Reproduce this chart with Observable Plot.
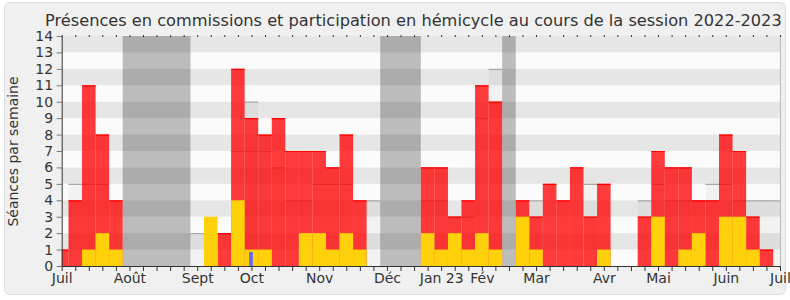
<!DOCTYPE html>
<html><head><meta charset="utf-8">
<script src="https://cdn.jsdelivr.net/npm/d3@7"></script>
<script src="https://cdn.jsdelivr.net/npm/@observablehq/plot@0.6"></script>
<style>
html,body{margin:0;padding:0;background:#fff;width:790px;height:300px;overflow:hidden;}
#box{position:absolute;left:4px;top:2px;width:780px;height:291px;background:#f0f0f0;border:1px solid #dcdcdc;border-radius:6px;}
#title{position:absolute;left:45px;top:13px;font-family:"DejaVu Sans";font-size:16.2px;line-height:16px;color:#333;white-space:nowrap;}
#chart{position:absolute;left:0;top:28px;}
</style>
</head><body>
<div id="box"></div>
<div id="title">Présences en commissions et participation en hémicycle au cours de la session 2022-2023</div>
<div id="chart"></div>
<script>
// Semaine 0 = première semaine de juillet 2022 ... semaine 53 = juillet 2023
const commission    = [1,4,11,8,4, 0,0,0,0,0, 0,0,2,12,9,8,9,7,7,7,6,8,4,0, 0,0,0, 6,6,3,4,11,10, 0, 4,3,5,4,6,3,5,0,0,3,7,6,6,4,4,8,7,3,1,0];
const participation = [0,0,1,2,1, 0,0,0,0,0, 0,3,0,4,1,1,0,0,2,2,1,2,1,0, 0,0,0, 2,1,2,1,2,1, 0, 3,1,0,0,0,0,1,0,0,0,3,0,1,2,0,3,3,1,0,0];
const mediane       = [null,5,5,5,null, null,null,null,null,null, 2,null,null,7,7,7,6,4,4,5,5,5,null,4, null,null,null, 4,4,3,3,9,12, null, null,4,null,null,null,5,null,null,null,4,5,4,4,4,5,5,4,4,4,4];
const mediane2      = [null,null,null,null,null, null,null,null,null,null, null,null,null,null,10,null,null,null,null,null,null,null,null,null, null,null,null, null,null,null,null,null,null, null, null,null,null,null,null,null,null,null,null,null,null,null,null,null,null,null,null,null,null,null];
const questions     = [0,0,0,0,0, 0,0,0,0,0, 0,0,0,0,0.85,0,0,0,0,0,0,0,0,0, 0,0,0, 0,0,0,0,0,0, 0, 0,0,0,0,0,0,0,0,0,0,0,0,0,0,0,0,0,0,0,0];
const vacances      = [[5,9],[24,26],[33,33]];
const moisLabels    = ["Juil","Août","Sept","Oct","Nov","Déc","Jan 23","Fév","Mar","Avr","Mai","Juin","Juil"];
const moisSemaines  = [0,5,10,14,19,24,28,31,35,40,44,49,53];
const yTicks        = d3.range(0, 15);

const weeks = commission.map((v, i) => ({
  i, commission: v, participation: participation[i],
  mediane: mediane[i], mediane2: mediane2[i], questions: questions[i]
}));
const labelMap = new Map(moisSemaines.map((w, k) => [w, moisLabels[k]]));
const stripes = d3.range(0, 14).map(k => ({k}));
const X1 = d => d.i - 0.5, X2 = d => d.i + 0.5, ZERO = () => 0;

const chart = Plot.plot({
  width: 790, height: 272,
  marginLeft: 61.7, marginRight: 10, marginTop: 8, marginBottom: 34,
  x: {domain: [0, 53], axis: null},
  y: {domain: [0, 14], axis: null},
  style: {fontFamily: "DejaVu Sans", fontSize: "14px", color: "#333", background: "transparent", overflow: "visible"},
  marks: [
    Plot.rect(stripes.filter(d => d.k % 2 === 1), {x1: () => 0, x2: () => 53, y1: d => d.k, y2: d => d.k + 1, fill: "#e6e6e6"}),
    Plot.rect(stripes.filter(d => d.k % 2 === 0), {x1: () => 0, x2: () => 53, y1: d => d.k, y2: d => d.k + 1, fill: "#fbfbfb"}),
    Plot.rect(vacances, {x1: d => d[0] - 0.5, x2: d => d[1] + 0.5, y1: ZERO, y2: () => 14, fill: "#000", fillOpacity: 0.25}),
    Plot.rect(weeks.filter(d => d.mediane2 != null), {x1: X1, x2: X2, y1: ZERO, y2: "mediane2", fill: "#000", fillOpacity: 0.035, clip: true}),
    Plot.ruleY(weeks.filter(d => d.mediane2 != null), {y: "mediane2", x1: X1, x2: X2, stroke: "#a8a8a8", strokeWidth: 1.2, clip: true}),
    Plot.rect(weeks.filter(d => d.mediane != null), {x1: X1, x2: X2, y1: ZERO, y2: "mediane", fill: "#000", fillOpacity: 0.035, clip: true}),
    Plot.ruleY(weeks.filter(d => d.mediane != null), {y: "mediane", x1: X1, x2: X2, stroke: "#a8a8a8", strokeWidth: 1.2, clip: true}),
    Plot.rect(weeks.filter(d => d.commission > 0), {x1: X1, x2: X2, y1: ZERO, y2: "commission", fill: "#ff0000", fillOpacity: 0.77, clip: true}),
    Plot.ruleY(weeks.filter(d => d.commission > 0), {y: "commission", x1: X1, x2: X2, stroke: "#ff0000", strokeWidth: 1.2, clip: true}),
    Plot.rect(weeks.filter(d => d.participation > 0), {x1: X1, x2: X2, y1: ZERO, y2: "participation", fill: "#ffd10a", clip: true}),
    Plot.rect(weeks.filter(d => d.questions > 0), {x1: d => d.i - 0.17, x2: d => d.i + 0.1, y1: ZERO, y2: "questions", fill: "#6464ff"}),
    Plot.ruleX([53], {stroke: "#bbb"}),
    Plot.axisY({ticks: yTicks, tickSize: 5, tickPadding: 4, tickFormat: d => String(d), stroke: "#777", fill: "#333", fontSize: 14}),
    Plot.axisX({ticks: d3.range(0, 54), tickSize: 5, tickPadding: 2, tickFormat: i => labelMap.get(i) ?? "", stroke: "#333", fill: "#333", fontSize: 14}),
    Plot.axisX({anchor: "top", ticks: d3.range(0, 54), tickSize: 2, tickFormat: () => "", stroke: "#333"}),
    Plot.ruleX([0], {stroke: "#333"}),
    Plot.ruleY([0], {stroke: "#333"}),
    Plot.text(["Séances par semaine"], {frameAnchor: "left", textAnchor: "middle", rotate: -90, dx: -49, fontSize: 14, fill: "#333"})
  ]
});
document.getElementById("chart").appendChild(chart);
</script>
</body></html>
